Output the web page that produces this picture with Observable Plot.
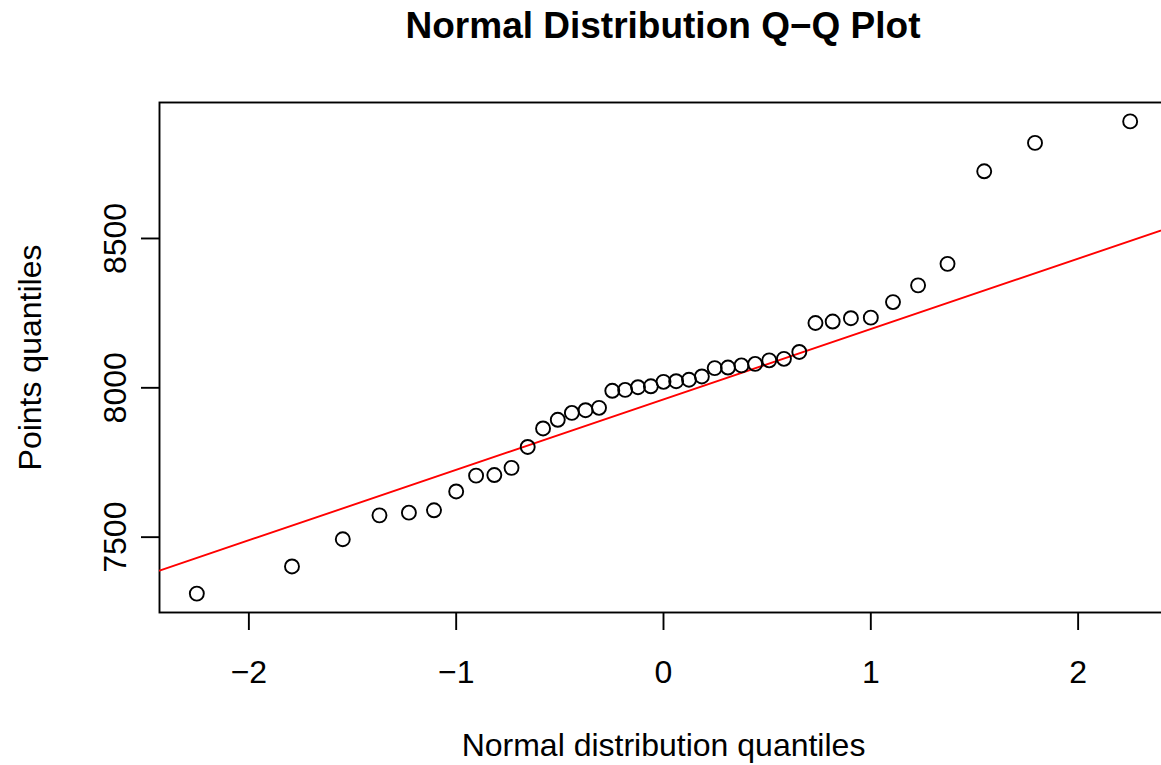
<!DOCTYPE html>
<html><head><meta charset="utf-8">
<script src="https://cdn.jsdelivr.net/npm/d3@7"></script>
<script src="https://cdn.jsdelivr.net/npm/@observablehq/plot@0.6"></script>
<style>
html,body{margin:0;padding:0;overflow:hidden;background:#fff;width:1161px;height:765px}
#title{box-sizing:border-box;width:1161px;height:60px;padding-left:165px;text-align:center;font:bold 37px "Liberation Sans",Arial,Helvetica,sans-serif;line-height:52px;color:#000;white-space:nowrap}
#chart{width:1167px}
</style></head><body>
<div id="title">Normal Distribution Q−Q Plot</div>
<div id="chart"></div>
<script>
// Theoretical normal quantiles (n = 41)
const theoretical = [
  -2.251, -1.792, -1.547, -1.370, -1.228, -1.107, -1.000, -0.904, -0.816, -0.733,
  -0.655, -0.581, -0.510, -0.442, -0.376, -0.311, -0.247, -0.185, -0.123, -0.061,
  0,
  0.061, 0.123, 0.185, 0.247, 0.311, 0.376, 0.442, 0.510, 0.581, 0.655,
  0.733, 0.816, 0.904, 1.000, 1.107, 1.228, 1.370, 1.547, 1.792, 2.251
];
// Sample (points) quantiles, sorted
const sample = [
  7311, 7402, 7493, 7573, 7582, 7590, 7653, 7706, 7708, 7732,
  7802, 7864, 7893, 7916, 7925, 7933, 7990, 7993, 8002, 8005,
  8020,
  8022, 8027, 8038, 8066, 8068, 8075, 8080, 8092, 8097, 8120,
  8217, 8222, 8233, 8235, 8287, 8343, 8415, 8725, 8820, 8892
];
const xTicks = [-2, -1, 0, 1, 2];
const yTicks = [7500, 8000, 8500];
const titleText = "Normal Distribution Q−Q Plot";
const xLabel = "Normal distribution quantiles";
const yLabel = "Points quantiles";

const points = theoretical.map((x, i) => ({x, y: sample[i]}));

// R-style 4% axis extension
const xe = d3.extent(theoretical), ye = d3.extent(sample);
const xd = [xe[0] - 0.04 * (xe[1] - xe[0]), xe[1] + 0.04 * (xe[1] - xe[0])];
const yd = [ye[0] - 0.04 * (ye[1] - ye[0]), ye[1] + 0.04 * (ye[1] - ye[0])];

// qqline through the quartiles
const q1 = d3.quantile(sample, 0.25), q3 = d3.quantile(sample, 0.75);
const z1 = -0.6745, z3 = 0.6745;
const slope = (q3 - q1) / (z3 - z1);
const intercept = q1 - slope * z1;
const lineData = xd.map(x => ({x, y: intercept + slope * x}));

const font = '"Liberation Sans", Arial, Helvetica, sans-serif';
const lw = 1.9;
const fs = 32;

const chart = Plot.plot({
  width: 1167, height: 705,
  marginTop: 42, marginBottom: 153, marginLeft: 159, marginRight: 0,
  style: {fontFamily: font, fontSize: fs + "px", color: "black", background: "white"},
  x: {domain: xd},
  y: {domain: yd},
  marks: [
    Plot.frame({stroke: "black", strokeWidth: lw}),
    Plot.axisX({ticks: xTicks, tickSize: 18, tickPadding: 30, fontSize: fs, label: null, strokeWidth: lw,
      tickFormat: d => d < 0 ? "\u2212" + (-d) : String(d)}),
    Plot.axisY({ticks: yTicks, tickSize: 18, tickFormat: () => "", label: null, strokeWidth: lw}),
    Plot.text(yTicks, {y: d => d, text: d => String(d), frameAnchor: "left", dx: -44, rotate: -90,
      textAnchor: "middle", lineAnchor: "middle", fontSize: fs, fill: "black"}),
    Plot.text([yLabel], {text: d => d, frameAnchor: "left", dx: -129, rotate: -90,
      textAnchor: "middle", lineAnchor: "middle", fontSize: fs, fill: "black"}),
    Plot.text([xLabel], {text: d => d, frameAnchor: "bottom", dy: 133,
      textAnchor: "middle", lineAnchor: "middle", fontSize: fs, fill: "black"}),
    Plot.line(lineData, {x: "x", y: "y", stroke: "red", strokeWidth: lw, clip: true}),
    Plot.dot(points, {x: "x", y: "y", r: 7, stroke: "black", strokeWidth: lw, fill: "none"})
  ]
});
document.getElementById("chart").appendChild(chart);
</script>
</body></html>
